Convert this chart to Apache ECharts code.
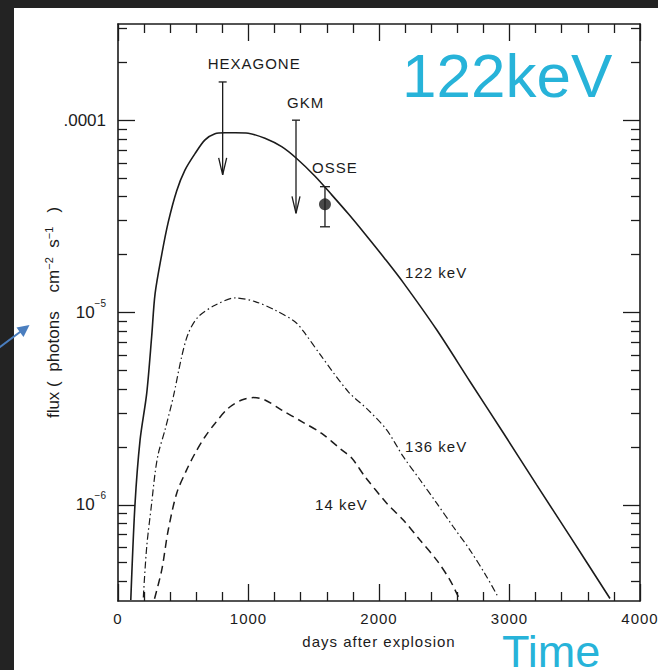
<!DOCTYPE html>
<html>
<head>
<meta charset="utf-8">
<script src="https://cdn.jsdelivr.net/npm/echarts@6/dist/echarts.min.js"></script>
<style>
  html, body { margin: 0; padding: 0; background: #232323; }
  #chart { width: 658px; height: 670px; }
  /* loose tracking of the figure lettering */
  #chart svg text[style*="15px"] { letter-spacing: 1px; }
</style>
</head>
<body>
<div id="chart"></div>
<script>
// 57Co line light curves of SN 1987A: days after explosion vs. flux (photons cm^-2 s^-1)

// 122 keV model curve
const days122 = [98, 130, 169, 220, 258, 284, 335, 385, 450, 513, 590, 667, 743, 820, 900, 998,
  1126, 1254, 1369, 1510, 1638, 1765, 1893, 2046, 2186, 2442, 2697, 2952, 3208, 3464, 3770];
const flux122 = [3.2e-7, 1.0e-6, 2.17e-6, 3.8e-6, 7.5e-6, 1.25e-5, 2.0e-5, 2.95e-5, 4.3e-5, 5.5e-5,
  6.7e-5, 7.9e-5, 8.5e-5, 8.6e-5, 8.6e-5, 8.55e-5, 8.05e-5, 7.28e-5, 6.32e-5, 5.11e-5, 4.09e-5,
  3.26e-5, 2.56e-5, 1.9e-5, 1.43e-5, 8.13e-6, 4.38e-6, 2.37e-6, 1.27e-6, 6.85e-7, 3.26e-7];

// 136 keV model curve
const days136 = [194, 220, 258, 284, 309, 360, 424, 488, 539, 615, 743, 897, 1050, 1203, 1356, 1420,
  1561, 1765, 1918, 2059, 2186, 2314, 2442, 2569, 2697, 2825, 2914];
const flux136 = [3.3e-7, 6.05e-7, 1.02e-6, 1.46e-6, 1.85e-6, 2.45e-6, 3.65e-6, 5.89e-6, 7.8e-6, 9.5e-6,
  1.09e-5, 1.19e-5, 1.14e-5, 1.03e-5, 8.96e-6, 8.0e-6, 5.89e-6, 3.87e-6, 3.11e-6, 2.45e-6, 1.78e-6,
  1.35e-6, 1.02e-6, 7.69e-7, 5.82e-7, 4.23e-7, 3.3e-7];

// 14 keV model curve
const days14 = [280, 335, 385, 450, 526, 590, 667, 743, 845, 948, 1037, 1126, 1254, 1408, 1561, 1714,
  1791, 1893, 2059, 2186, 2314, 2442, 2544, 2615];
const flux14 = [3.25e-7, 4.58e-7, 7.4e-7, 1.15e-6, 1.52e-6, 1.85e-6, 2.26e-6, 2.65e-6, 3.18e-6, 3.51e-6,
  3.61e-6, 3.51e-6, 3.11e-6, 2.71e-6, 2.35e-6, 1.93e-6, 1.75e-6, 1.4e-6, 1.02e-6, 8.34e-7, 6.56e-7,
  5.16e-7, 4.06e-7, 3.25e-7];

// upper limits (bar top and arrow tip)
const limitNames = ['HEXAGONE', 'GKM'];
const limitDays = [802, 1364];
const limitFlux = [1.58e-4, 1.0e-4];
const limitArrowTip = [5.2e-5, 3.28e-5];

// OSSE detection with error bar
const osseNames = ['OSSE'];
const osseDays = [1586];
const osseFlux = [3.65e-5];
const osseLow = [2.79e-5];
const osseHigh = [4.51e-5];

// curve names
const curveNames = ['122 keV', '136 keV', '14 keV'];

// axis ticks and titles
const xTickLabels = ['0', '1000', '2000', '3000', '4000'];
const yMajorLog = [-6, -5, -4];
const yTickLabels = ['10^−6', '10^−5', '.0001'];
const xTitle = 'days after explosion';
const yTitleParts = ['flux\u00a0(\u00a0\u00a0photons\u00a0\u00a0\u00a0\u00a0cm', '−2', '\u00a0\u00a0s', '−1', '\u00a0\u00a0\u00a0)'];

// ---- layout / style ----
const INK = '#1b1b1b';
const FONT = 'Liberation Sans';
const CYAN = '#27b3d9';
const limitLabelOffset = [[-15, -18], [-9, -18]];
const osseLabelOffset = [-13, -19];
const curveLabelAnchor = [[2200, 1.62e-5], [2200, 2.02e-6], [1510, 1.0e-6]];

const lg = v => Math.log10(v);
const zip = (xs, ys) => xs.map((x, i) => [x, lg(ys[i])]);

const yMinorLog = [];
for (let n = -7; n <= -4; n++) {
  for (let k = 2; k <= 9; k++) {
    const v = n + Math.log10(k);
    if (v > -6.5 && v < -3.5) yMinorLog.push(v);
  }
}

function yLabel(value) {
  const i = yMajorLog.findIndex(t => Math.abs(t - value) < 1e-9);
  if (i < 0) return '';
  const s = yTickLabels[i];
  if (s.indexOf('^') < 0) return s;
  const [b, e] = s.split('^');
  return '{b|' + b + '}{s|' + e + '}';
}

// rotated axis title with superscript exponents
const yTitle = yTitleParts.map((p, i) => (i % 2 ? '{sup|' + p + '}' : '{t|' + p + '}')).join('');

const tickStyle = { color: INK, width: 1.3 };
const axisLineStyle = { color: INK, width: 1.6 };

function xAxisBase(pos, labels) {
  return {
    type: 'value', position: pos, min: 0, max: 4000, interval: 1000,
    axisLine: { show: true, onZero: false, lineStyle: axisLineStyle },
    axisTick: { show: true, inside: true, length: 17, lineStyle: tickStyle },
    minorTick: { show: true, splitNumber: 5, length: 9, lineStyle: tickStyle },
    splitLine: { show: false }, minorSplitLine: { show: false },
    axisLabel: labels ? {
      show: true, margin: 10, fontSize: 15, fontFamily: FONT, color: INK,
      formatter: v => xTickLabels[Math.round(v / 1000)] ?? ''
    } : { show: false }
  };
}

function yAxisBase(pos, ticks, len, showLine, labels) {
  return {
    type: 'value', position: pos, min: -6.5, max: -3.5,
    axisLine: { show: showLine, onZero: false, lineStyle: axisLineStyle },
    axisTick: { show: true, inside: true, length: len, customValues: ticks, lineStyle: tickStyle },
    splitLine: { show: false },
    axisLabel: labels ? {
      show: true, margin: 12, fontSize: 17, fontFamily: FONT, color: INK,
      customValues: yMajorLog, formatter: yLabel,
      rich: {
        b: { fontSize: 17, fontFamily: FONT, color: INK, lineHeight: 17, verticalAlign: 'middle' },
        s: { fontSize: 10, fontFamily: FONT, color: INK, lineHeight: 10, padding: [0, 0, 18, 0], verticalAlign: 'middle' }
      }
    } : { show: false }
  };
}

const xMain = xAxisBase('bottom', true);
xMain.name = xTitle;
xMain.nameLocation = 'middle';
xMain.nameGap = 33;
xMain.nameMoveOverlap = false;
xMain.nameTextStyle = { fontSize: 15, fontFamily: FONT, color: INK };

const yMain = yAxisBase('left', yMajorLog, 17, true, true);
yMain.name = yTitle;
yMain.nameLocation = 'middle';
yMain.nameRotate = 90;
yMain.nameGap = 56;
yMain.nameMoveOverlap = false;
yMain.nameTextStyle = {
  fontSize: 17, fontFamily: FONT, color: INK,
  rich: {
    t: { fontSize: 17, fontFamily: FONT, color: INK, lineHeight: 17, verticalAlign: 'middle' },
    sup: { fontSize: 11, fontFamily: FONT, color: INK, lineHeight: 11, padding: [0, 0, 10, 0], verticalAlign: 'middle' }
  }
};

const lineSeries = (name, data, type, width) => ({
  name, type: 'line', data, showSymbol: false, symbol: 'none', smooth: 0.3,
  xAxisIndex: 0, yAxisIndex: 0, clip: true, z: 3,
  lineStyle: { color: INK, width, type }
});

const option = {
  animation: false,
  backgroundColor: '#232323',
  textStyle: { fontFamily: FONT },
  grid: { left: 118, top: 24, right: 18, bottom: 69, show: false, outerBoundsMode: 'none', containLabel: false },
  xAxis: [xMain, xAxisBase('top', false)],
  yAxis: [
    yMain,
    yAxisBase('right', yMajorLog, 17, true, false),
    yAxisBase('left', yMinorLog, 9, false, false),
    yAxisBase('right', yMinorLog, 9, false, false)
  ],
  graphic: [
    { type: 'rect', z: -10, shape: { x: 14, y: 8, width: 644, height: 662 }, style: { fill: '#ffffff' } },
    { type: 'text', z: 10, x: 402, y: 75.5,
      style: { text: '122keV', fontSize: 62, fontFamily: 'Liberation Sans', fill: CYAN, textAlign: 'left', textVerticalAlign: 'middle' } },
    { type: 'text', z: 10, x: 502, y: 651,
      style: { text: 'Time', fontSize: 45, fontFamily: 'Liberation Sans', fill: CYAN, textAlign: 'left', textVerticalAlign: 'middle' } },
    { type: 'line', z: 10, shape: { x1: -2, y1: 348.5, x2: 22, y2: 330.5 },
      style: { stroke: '#4a7ebf', lineWidth: 2 } },
    { type: 'polygon', z: 10, shape: { points: [[29.5, 325], [16.5, 327.5], [23.5, 337]] },
      style: { fill: '#4a7ebf' } }
  ],
  series: [
    lineSeries('122 keV', zip(days122, flux122), 'solid', 1.6),
    lineSeries('136 keV', zip(days136, flux136), [7, 3, 1.5, 3], 1.2),
    lineSeries('14 keV', zip(days14, flux14), [8, 5], 1.5),
    {
      name: 'limits', type: 'custom', xAxisIndex: 0, yAxisIndex: 0, z: 4, clip: false,
      encode: { x: 0, y: [1, 2] },
      data: limitDays.map((d, i) => [d, lg(limitFlux[i]), lg(limitArrowTip[i])]),
      renderItem(params, api) {
        const top = api.coord([api.value(0), api.value(1)]);
        const tip = api.coord([api.value(0), api.value(2)]);
        const off = limitLabelOffset[params.dataIndex];
        const st = { stroke: INK, lineWidth: 1.3, fill: null };
        return {
          type: 'group', children: [
            { type: 'line', shape: { x1: top[0], y1: top[1], x2: tip[0], y2: tip[1] }, style: st },
            { type: 'line', shape: { x1: top[0] - 4, y1: top[1], x2: top[0] + 4, y2: top[1] }, style: st },
            { type: 'polyline', shape: { points: [[tip[0] - 4, tip[1] - 17], [tip[0], tip[1]], [tip[0] + 4, tip[1] - 17]] }, style: st },
            { type: 'text', style: { text: limitNames[params.dataIndex], x: top[0] + off[0], y: top[1] + off[1],
                fontSize: 15, fontFamily: FONT, fill: INK, textAlign: 'left', textVerticalAlign: 'middle' } }
          ]
        };
      }
    },
    {
      name: 'OSSE error', type: 'custom', xAxisIndex: 0, yAxisIndex: 0, z: 4, clip: false,
      encode: { x: 0, y: [1, 2] },
      data: osseDays.map((d, i) => [d, lg(osseLow[i]), lg(osseHigh[i])]),
      renderItem(params, api) {
        const lo = api.coord([api.value(0), api.value(1)]);
        const hi = api.coord([api.value(0), api.value(2)]);
        const st = { stroke: INK, lineWidth: 1.3 };
        return {
          type: 'group', children: [
            { type: 'line', shape: { x1: lo[0], y1: lo[1], x2: hi[0], y2: hi[1] }, style: st },
            { type: 'line', shape: { x1: lo[0] - 5, y1: lo[1], x2: lo[0] + 5, y2: lo[1] }, style: st },
            { type: 'line', shape: { x1: hi[0] - 5, y1: hi[1], x2: hi[0] + 5, y2: hi[1] }, style: st },
            { type: 'text', style: { text: osseNames[params.dataIndex], x: hi[0] + osseLabelOffset[0], y: hi[1] + osseLabelOffset[1],
                fontSize: 15, fontFamily: FONT, fill: INK, textAlign: 'left', textVerticalAlign: 'middle' } }
          ]
        };
      }
    },
    {
      name: 'OSSE', type: 'scatter', xAxisIndex: 0, yAxisIndex: 0, z: 5,
      symbol: 'circle', symbolSize: 12, itemStyle: { color: INK },
      data: zip(osseDays, osseFlux)
    },
    {
      name: 'curve labels', type: 'custom', xAxisIndex: 0, yAxisIndex: 0, z: 4, clip: false,
      data: curveLabelAnchor.map(a => [a[0], lg(a[1])]),
      renderItem(params, api) {
        const p = api.coord([api.value(0), api.value(1)]);
        return { type: 'text', style: { text: curveNames[params.dataIndex], x: p[0], y: p[1],
          fontSize: 15, fontFamily: FONT, fill: INK, textAlign: 'left', textVerticalAlign: 'middle' } };
      }
    }
  ]
};

const chart = echarts.init(document.getElementById('chart'), null, { renderer: 'svg' });
chart.setOption(option);
</script>
</body>
</html>
